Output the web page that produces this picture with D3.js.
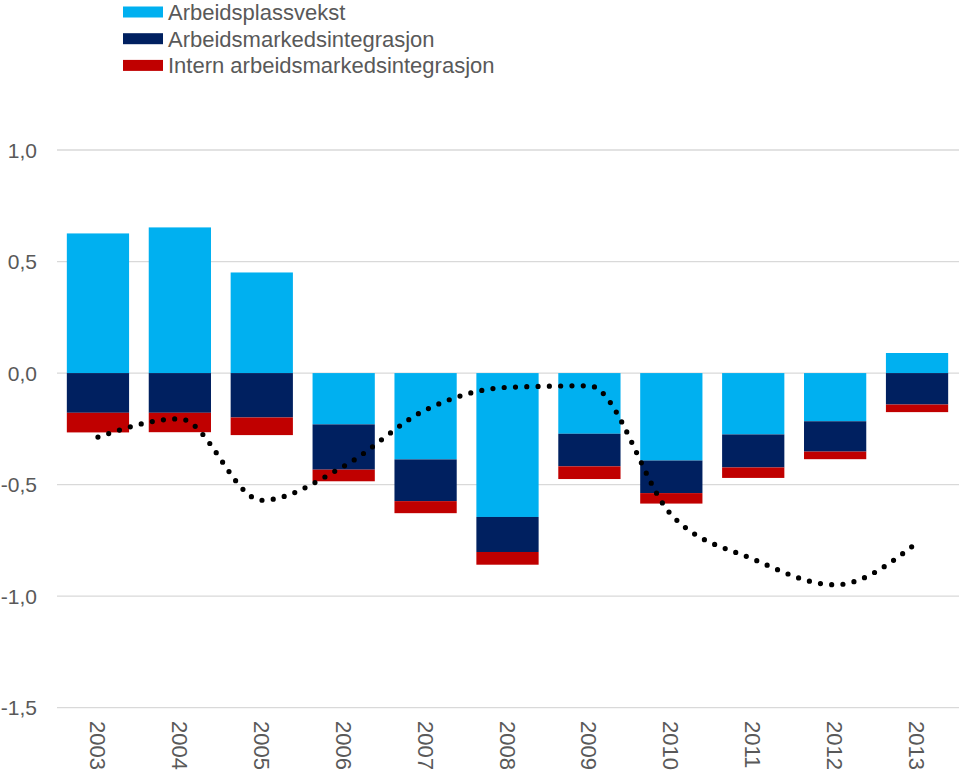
<!DOCTYPE html>
<html>
<head>
<meta charset="utf-8">
<script src="https://cdn.jsdelivr.net/npm/d3@7"></script>
<style>
  html, body { margin: 0; padding: 0; background: #fff; }
  svg { display: block; font-family: "Liberation Sans", Arial, sans-serif; }
</style>
</head>
<body>
<svg id="chart" width="959" height="771"></svg>
<script>
const years = ["2003","2004","2005","2006","2007","2008","2009","2010","2011","2012","2013"];
const seriesNames = ["Arbeidsplassvekst", "Arbeidsmarkedsintegrasjon", "Intern arbeidsmarkedsintegrasjon"];
const arbeidsplassvekst = [0.626, 0.653, 0.451, -0.230, -0.387, -0.645, -0.272, -0.392, -0.275, -0.216, 0.090];
const arbeidsmarkedsintegrasjon = [-0.178, -0.178, -0.199, -0.203, -0.187, -0.157, -0.146, -0.146, -0.148, -0.136, -0.141];
const internIntegrasjon = [-0.088, -0.087, -0.079, -0.052, -0.054, -0.057, -0.057, -0.047, -0.047, -0.034, -0.034];
const linje = [-0.287, -0.205, -0.570, -0.418, -0.165, -0.064, -0.057, -0.635, -0.834, -0.949, -0.760];
const yTicks = [1.0, 0.5, 0.0, -0.5, -1.0, -1.5];
const colors = ["#00B0F0", "#002060", "#C00000"];

const svg = d3.select("#chart");
const x = d3.scaleBand().domain(years).range([57, 958]).paddingInner(0.24).paddingOuter(0.12);
const y = d3.scaleLinear().domain([-1.5, 1.0]).range([707.7, 150]);

// gridlines
svg.append("g").selectAll("line").data(yTicks).join("line")
  .attr("x1", 57).attr("x2", 959)
  .attr("y1", d => y(d)).attr("y2", d => y(d))
  .attr("stroke", "#D9D9D9").attr("stroke-width", 1.3);

// y labels
const fmt = d => d3.format(".1f")(d).replace(".", ",").replace("−", "-");
svg.append("g").selectAll("text").data(yTicks).join("text")
  .attr("x", 37).attr("y", d => y(d) + 7.5)
  .attr("text-anchor", "end")
  .attr("font-size", 21).attr("fill", "#595959")
  .text(fmt);

// stacked bars
const table = years.map((yr, i) => ({
  year: yr,
  [seriesNames[0]]: arbeidsplassvekst[i],
  [seriesNames[1]]: arbeidsmarkedsintegrasjon[i],
  [seriesNames[2]]: internIntegrasjon[i]
}));
const stacked = d3.stack().keys(seriesNames).offset(d3.stackOffsetDiverging)(table);
svg.append("g").selectAll("g").data(stacked).join("g")
  .attr("fill", (d, i) => colors[i])
  .selectAll("rect").data(d => d).join("rect")
  .attr("x", d => x(d.data.year))
  .attr("width", x.bandwidth())
  .attr("y", d => y(Math.max(d[0], d[1])))
  .attr("height", d => Math.abs(y(d[0]) - y(d[1])));

// dotted smooth line
const line = d3.line()
  .x((d, i) => x(years[i]) + x.bandwidth() / 2)
  .y(d => y(d))
  .curve(d3.curveMonotoneX);
svg.append("path")
  .attr("d", line(linje))
  .attr("fill", "none")
  .attr("stroke", "#000")
  .attr("stroke-width", 5.2)
  .attr("stroke-linecap", "round")
  .attr("stroke-dasharray", "0 11.3");

// x labels (rotated)
svg.append("g").selectAll("text").data(years).join("text")
  .attr("transform", d => `translate(${x(d) + x.bandwidth() / 2 - 8},721) rotate(90)`)
  .attr("font-size", 22).attr("fill", "#595959")
  .text(d => d);

// legend
const legend = svg.append("g");
seriesNames.forEach((name, i) => {
  const cy = 12 + i * 26.7;
  legend.append("rect").attr("x", 123).attr("y", cy - 5.5).attr("width", 40).attr("height", 11).attr("fill", colors[i]);
  legend.append("text").attr("x", 168).attr("y", cy + 8).attr("font-size", 22).attr("fill", "#595959").text(name);
});
</script>
</body>
</html>
